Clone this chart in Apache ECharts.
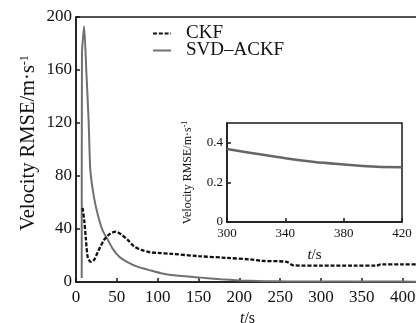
<!DOCTYPE html>
<html>
<head>
<meta charset="utf-8">
<script src="https://cdn.jsdelivr.net/npm/echarts@6/dist/echarts.min.js"></script>
<style>html,body{margin:0;padding:0;background:#fff}#c{width:416px;height:323px}</style>
</head>
<body>
<div id="c"></div>
<script>
// ---- data ----
var seriesNames = ['CKF', 'SVD–ACKF'];
var ckfT = [8, 10, 12, 14.3, 17, 19, 22, 27, 34.6, 42, 49, 55, 63, 71, 80, 92, 100, 116, 150, 185, 214, 226, 258, 266, 300, 340, 368, 373, 400, 420];
var ckfV = [56, 47, 33, 19, 15.6, 15.2, 16.5, 23, 32, 36.5, 38, 36, 32, 27, 24.3, 22.3, 22, 21.3, 19.5, 18.2, 17, 16, 15.2, 12.6, 12.3, 12.3, 12.3, 13.3, 13.3, 13.3];
var svdT = [7, 7.3, 10, 12.6, 15.5, 17.5, 22, 27, 32.6, 38.8, 45, 53, 63, 75, 92, 104, 116, 153, 177, 200, 230, 260, 300, 340, 380, 420];
var svdV = [3, 172, 193, 160, 121, 85, 64, 50, 39, 32, 25, 19, 15, 11.6, 8.6, 6.6, 5.3, 3.3, 2, 1.2, 0.6, 0.45, 0.37, 0.32, 0.29, 0.28];
var insetT = [300, 320, 340, 360, 380, 403, 420];
var insetV = [0.369, 0.345, 0.322, 0.303, 0.291, 0.279, 0.277];
var mainXTicks = [0, 420, 50];   // min, max, interval
var mainYTicks = [0, 200, 40];
var insetXTicks = [300, 420, 40];
var insetYTicks = [0, 0.5, 0.2];
var yTitle = 'Velocity RMSE/m·s';
var ySup = '-1';
var xTitleItalic = 't';
var xTitleRest = '/s';

function pairs(t, v) { return t.map(function (x, i) { return [x, v[i]]; }); }

var FONT = 'Liberation Serif';
var AX = '#1a1a1a';
var GREY = '#707070';

function valueAxis(r, idx, extra) {
  var o = {
    type: 'value', gridIndex: idx, min: r[0], max: r[1], interval: r[2],
    axisLine: { show: true, onZero: false, lineStyle: { color: AX, width: 1.5 } },
    axisTick: { show: true, inside: true, length: 4, lineStyle: { color: AX, width: 1.5 } },
    splitLine: { show: false },
    axisLabel: { color: '#111', fontFamily: FONT }
  };
  for (var k in extra) {
    if (k === 'axisLabel') { for (var j in extra[k]) o.axisLabel[j] = extra[k][j]; }
    else o[k] = extra[k];
  }
  return o;
}

var chart = echarts.init(document.getElementById('c'), null, { renderer: 'canvas' });
chart.setOption({
  animation: false,
  backgroundColor: '#fff',
  grid: [
    { left: 76, top: 17, width: 343, height: 265, show: true, borderColor: AX, borderWidth: 1.5, backgroundColor: 'transparent', containLabel: false, outerBoundsMode: 'none' },
    { left: 227, top: 123, width: 175, height: 99, show: true, borderColor: AX, borderWidth: 1.5, backgroundColor: '#fff', containLabel: false, outerBoundsMode: 'none' }
  ],
  legend: {
    orient: 'vertical', left: 147, top: 19, itemWidth: 18, itemHeight: 10, itemGap: -2,
    data: seriesNames,
    itemStyle: { opacity: 0 },
    textStyle: { fontFamily: FONT, fontSize: 19, lineHeight: 16, color: '#111', padding: [0, 0, 0, 10] }
  },
  xAxis: [
    valueAxis(mainXTicks, 0, {
      axisLabel: { fontSize: 17, margin: 7, showMaxLabel: false },
      name: '{i|' + xTitleItalic + '}' + xTitleRest, nameLocation: 'middle', nameGap: 27,
      nameTextStyle: { fontFamily: FONT, fontSize: 16, color: '#111', rich: { i: { fontFamily: FONT, fontSize: 16, fontStyle: 'italic', color: '#111' } } }
    }),
    valueAxis(insetXTicks, 1, {
      axisLabel: { fontSize: 13, margin: 5, showMaxLabel: true },
      name: '{i|' + xTitleItalic + '}' + xTitleRest, nameLocation: 'middle', nameGap: 26,
      nameTextStyle: { fontFamily: FONT, fontSize: 15, color: '#111', rich: { i: { fontFamily: FONT, fontSize: 15, fontStyle: 'italic', color: '#111' } } }
    })
  ],
  yAxis: [
    valueAxis(mainYTicks, 0, { axisLabel: { fontSize: 17, margin: 4, showMaxLabel: true } }),
    valueAxis(insetYTicks, 1, {
      axisLabel: { fontSize: 13, margin: 4, showMaxLabel: false },
      name: yTitle + '{s|' + ySup + '}', nameLocation: 'middle', nameGap: 33,
      nameTextStyle: { fontFamily: FONT, fontSize: 12, color: '#111', rich: { s: { fontFamily: FONT, fontSize: 8, color: '#111', verticalAlign: 'top', padding: [0, 0, 5, 0] } } }
    })
  ],
  graphic: [{
    type: 'text', x: 29, y: 143, rotation: Math.PI / 2,
    style: {
      text: yTitle + '{s|' + ySup + '}', fontFamily: FONT, fontSize: 20.5, fill: '#111',
      align: 'center', verticalAlign: 'middle',
      rich: { s: { fontFamily: FONT, fontSize: 12, fill: '#111', verticalAlign: 'top', padding: [0, 0, 9, 0] } }
    }
  }],
  series: [
    { name: seriesNames[0], type: 'line', xAxisIndex: 0, yAxisIndex: 0, data: pairs(ckfT, ckfV), symbol: 'none', smooth: 0.3, clip: true,
      lineStyle: { color: '#111', width: 2.3, type: [4, 1.8] }, itemStyle: { color: '#111' }, z: 3 },
    { name: seriesNames[1], type: 'line', xAxisIndex: 0, yAxisIndex: 0, data: pairs(svdT, svdV), symbol: 'none', smooth: 0.2, clip: true,
      lineStyle: { color: GREY, width: 2 }, itemStyle: { color: GREY }, z: 2 },
    { name: 'inset', type: 'line', xAxisIndex: 1, yAxisIndex: 1, data: pairs(insetT, insetV), symbol: 'none', smooth: 0.3,
      lineStyle: { color: '#666', width: 2.5 }, itemStyle: { color: '#666' } }
  ]
});
</script>
</body>
</html>
